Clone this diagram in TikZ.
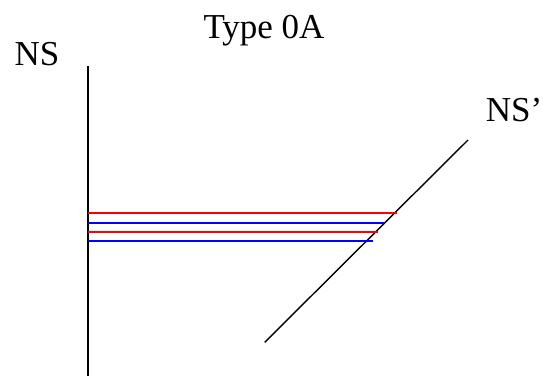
\documentclass[tikz,border=0pt]{standalone}
\usepackage{fontspec}
\setmainfont{Liberation Serif}
\usepackage{tikz}
\tikzset{
  curveline/.style = {black,line width=1.4pt},
  redshift/.style  = {red,line width=1.8pt},
  blueshift/.style = {blue,line width=1.8pt},
  lbl/.style       = {inner sep=0pt,anchor=base,font=\fontsize{35}{40}\selectfont}
}

\begin{document}
\begin{tikzpicture}[x=1pt,y=-1pt]
  \useasboundingbox (0,0) rectangle (543,376);
  % labels
  \node[lbl] (title) at (264,38) {Type 0A};
  \node[lbl] (ns)    at (37,65) {NS};
  \node[lbl] (nsp)   at (514,121) {NS'};
  % the two curves
  \coordinate (nstop) at (88,66);
  \coordinate (nsbot) at (88,376);
  \coordinate (diaglo) at (264.7,342.3);
  \coordinate (diaghi) at (468,140);
  \draw[curveline] (nstop) -- (nsbot);
  \draw[curveline] (diaglo) -- (diaghi);
  % shifts
  \draw[redshift]  (88,213.3) -- (396.7,213.3);
  \draw[blueshift] (88,222.7) -- (384,222.7);
  \draw[redshift]  (88,232)   -- (378,232);
  \draw[blueshift] (88,241.3) -- (372.7,241.3);
\end{tikzpicture}
\end{document}
